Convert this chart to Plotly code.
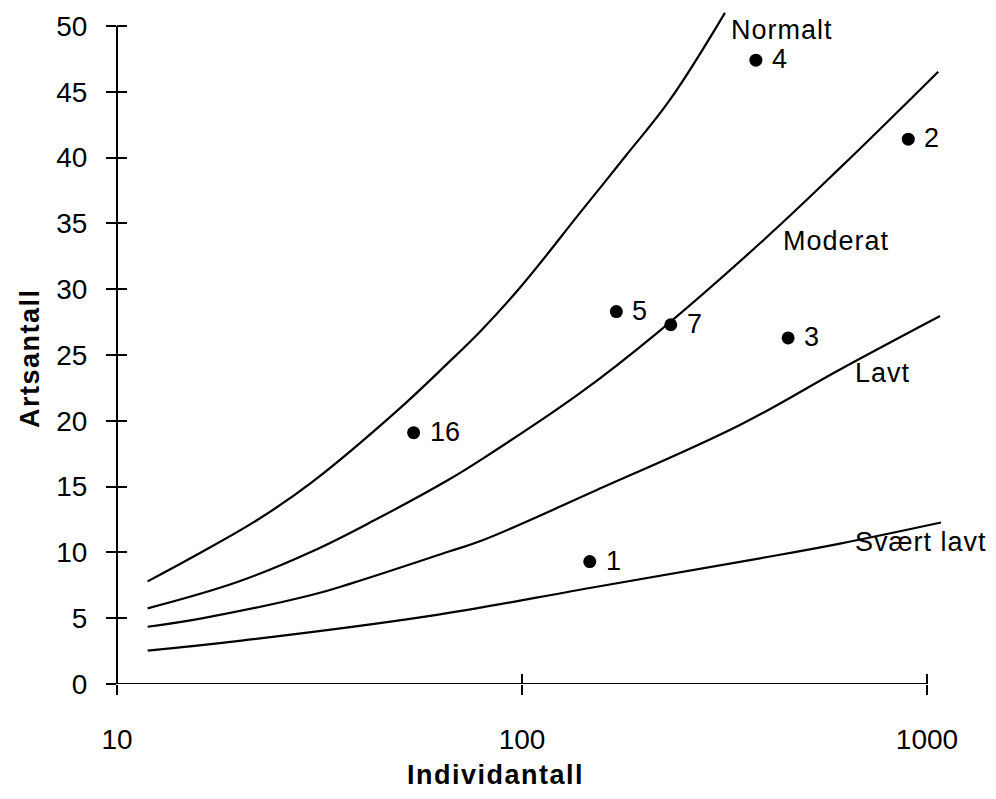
import math
import plotly.graph_objects as go

# Reference curves: species count (Artsantall) against individuals (Individantall)
normalt_n = [11.9, 15.7, 22.3, 30.2, 48.5, 65.7, 79.5, 100, 139, 180, 232, 317]
normalt_s = [7.8, 9.8, 12.5, 15.3, 20.6, 24.4, 26.9, 30.3, 35.8, 40.1, 44.4, 51.0]

moderat_n = [11.9, 19.9, 30.2, 43.3, 65.7, 80.2, 139, 215, 387, 610, 1066]
moderat_s = [5.75, 7.77, 10.05, 12.46, 15.5, 17.15, 22.1, 26.65, 33.49, 39.22, 46.53]

lavt_n = [11.9, 16.2, 30.2, 37.9, 65.7, 80.2, 153, 345, 610, 1077]
lavt_s = [4.35, 4.99, 6.76, 7.65, 10.05, 10.94, 14.74, 19.68, 23.9, 27.96]

svaert_n = [11.9, 20.3, 59.3, 153, 387, 610, 1083]
svaert_s = [2.53, 3.29, 5.17, 7.39, 9.55, 10.67, 12.27]

# Sampled stations
station_ids = ["16", "1", "5", "7", "3", "4", "2"]
station_n = [54, 147, 171, 233, 454, 378, 899]
station_s = [19.1, 9.3, 28.3, 27.3, 26.3, 47.4, 41.4]

# Curve names with label anchor (individuals, species)
curve_labels = ["Normalt", "Moderat", "Lavt", "Svært lavt"]
curve_label_n = [324, 436, 656, 656]
curve_label_s = [49.7, 33.7, 23.6, 10.8]

y_ticks = [0, 5, 10, 15, 20, 25, 30, 35, 40, 45, 50]
x_ticks = [10, 100, 1000]
x_tick_text = ["10", "100", "1000"]

FONT = "Liberation Sans, Arial, Helvetica, sans-serif"
X_RANGE = [1, 1 + 871 / 405]
Y_RANGE = [0, 51.9]


def spaced(text, px):
    return f'<span style="letter-spacing:{px}px">{text}</span>'


fig = go.Figure()

for n, s in [(normalt_n, normalt_s), (moderat_n, moderat_s),
             (lavt_n, lavt_s), (svaert_n, svaert_s)]:
    fig.add_trace(go.Scatter(
        x=n, y=s, mode="lines",
        line=dict(color="black", width=2.2, shape="spline", smoothing=1.1),
        hoverinfo="skip", showlegend=False,
    ))

fig.add_trace(go.Scatter(
    x=station_n, y=station_s, mode="markers",
    marker=dict(color="black", size=13),
    showlegend=False,
))

# invisible trace so the overlay axes (inner tick halves) are drawn
fig.add_trace(go.Scatter(x=[10], y=[0], xaxis="x2", yaxis="y2",
                         mode="markers", marker=dict(opacity=0),
                         hoverinfo="skip", showlegend=False))

for sid, n, s in zip(station_ids, station_n, station_s):
    fig.add_annotation(
        x=math.log10(n), y=s, xref="x", yref="y", text=sid,
        showarrow=False, xanchor="left", yanchor="middle", xshift=14, yshift=1,
        font=dict(family=FONT, size=27, color="black"),
    )
for txt, n, s in zip(curve_labels, curve_label_n, curve_label_s):
    fig.add_annotation(
        x=math.log10(n), y=s, xref="x", yref="y", text=spaced(txt, 1),
        showarrow=False, xanchor="left", yanchor="middle",
        font=dict(family=FONT, size=27, color="black"),
    )

# axis titles positioned in pixels relative to the plot area
fig.add_annotation(
    text="<b>" + spaced("Individantall", 1.5) + "</b>",
    x=(495 - 117) / 871, y=-(775 - 684) / 683,
    xref="paper", yref="paper", showarrow=False,
    xanchor="center", yanchor="middle",
    font=dict(family=FONT, size=27, color="black"),
)
fig.add_annotation(
    text="<b>" + spaced("Artsantall", 1.5) + "</b>",
    x=-(117 - 30) / 871, y=(684 - 358) / 683,
    xref="paper", yref="paper", showarrow=False, textangle=-90,
    xanchor="center", yanchor="middle",
    font=dict(family=FONT, size=27, color="black"),
)

x_end = (3 - X_RANGE[0]) / (X_RANGE[1] - X_RANGE[0])
fig.add_shape(type="line", xref="paper", yref="y", x0=0, x1=x_end, y0=0, y1=0,
              line=dict(color="black", width=2))
fig.add_shape(type="line", xref="paper", yref="y", x0=0, x1=0, y0=0, y1=50,
              line=dict(color="black", width=2))

axis_common = dict(showgrid=False, zeroline=False, showline=False,
                   tickcolor="black", tickwidth=2, ticklen=10)

fig.update_layout(
    width=996, height=799,
    margin=dict(l=117, r=8, t=1, b=115),
    paper_bgcolor="white", plot_bgcolor="white",
    font=dict(family=FONT, size=28, color="black"),
    xaxis=dict(type="log", range=X_RANGE, tickvals=x_ticks, ticktext=x_tick_text,
               ticks="outside", ticklabelstandoff=20, **axis_common),
    yaxis=dict(range=Y_RANGE, tickvals=y_ticks, ticks="outside",
               ticklabelstandoff=13, **axis_common),
    xaxis2=dict(type="log", range=X_RANGE, overlaying="x", anchor="y2",
                tickvals=x_ticks, ticks="inside", showticklabels=False,
                **axis_common),
    yaxis2=dict(range=Y_RANGE, overlaying="y", anchor="x2", side="left",
                tickvals=y_ticks, ticks="inside", showticklabels=False,
                **axis_common),
    showlegend=False,
)

fig.write_html("out.html")
